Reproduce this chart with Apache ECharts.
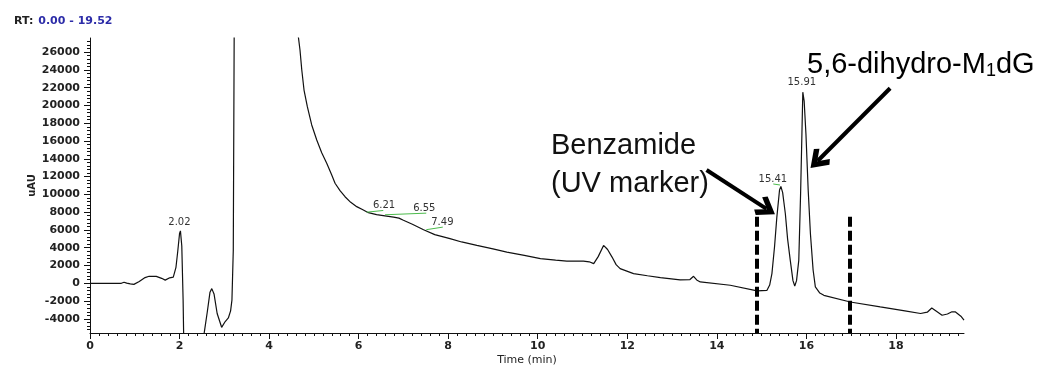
<!DOCTYPE html>
<html>
<head>
<meta charset="utf-8">
<script src="https://cdn.jsdelivr.net/npm/echarts@6/dist/echarts.min.js"></script>
<style>
  html, body { margin: 0; padding: 0; background: #fff; }
  #chart { width: 1046px; height: 367px; }
</style>
</head>
<body>
<div id="chart"></div>
<script>
// chromatogram trace (min, uAU); the big solvent peak runs off scale
const rtTimes = [
  0, 0.70, 0.76, 0.82, 0.90, 0.98, 1.10, 1.23, 1.32, 1.48, 1.60, 1.68, 1.78, 1.86,
  1.92, 1.96, 2.00, 2.02, 2.05, 2.08, 2.12, 2.30, 2.50, 2.55, 2.62, 2.68, 2.72, 2.77,
  2.84, 2.94, 3.02, 3.09, 3.14, 3.17, 3.20, 3.23, 3.40, 4.00, 4.50, 4.653, 4.69, 4.73,
  4.78, 4.854, 4.952, 5.064, 5.175, 5.287, 5.399, 5.473, 5.584, 5.696, 5.823, 5.957,
  6.105, 6.217, 6.40, 6.55, 6.78, 6.90, 7.00, 7.20, 7.45, 7.70,
  8.04, 8.30, 8.64, 9.00, 9.31, 9.70, 10.06, 10.40, 10.65, 11.02, 11.15, 11.25, 11.35,
  11.47, 11.56, 11.66, 11.75, 11.84, 12.14, 12.45, 12.74, 13.18, 13.40, 13.48, 13.55,
  13.63, 14.30, 14.90, 15.12, 15.18, 15.23, 15.29, 15.34, 15.40, 15.43, 15.47, 15.53,
  15.58, 15.64, 15.70, 15.74, 15.78, 15.83, 15.87, 15.90, 15.92, 15.95, 15.99, 16.04,
  16.09, 16.15, 16.20, 16.30, 16.39, 16.98, 17.65, 18.20, 18.55, 18.70, 18.80, 18.84,
  18.92, 19.03, 19.15, 19.25, 19.33, 19.45, 19.52
]
const intensity = [
  0, 0, 120, 20, -60, -120, 200, 640, 790, 780, 560, 360, 620, 700,
  1800, 3600, 5600, 5900, 4200, -2000, -15000, -30000, -12000, -5600, -3200, -1000, -600, -1200,
  -3400, -4950, -4300, -3900, -3100, -1900, 3700, 40000, 120000, 150000, 60000, 27740, 26240, 23990,
  21740, 19870, 17810, 16120, 14690, 13500, 12180, 11250, 10420, 9740, 9110, 8620,
  8250, 7940, 7720, 7620, 7440, 7330, 7100, 6650, 6030, 5480,
  5020, 4650, 4260, 3870, 3510, 3150, 2770, 2600, 2500, 2500, 2420, 2210, 3000,
  4260, 3800, 2950, 2100, 1650, 1090, 850, 640, 380, 420, 790, 380,
  150, -220, -860, -790, -200, 1090, 4200, 7440, 10500, 10900, 10200, 7820,
  5000, 2580, 300, -300, 300, 2580, 10000, 16800, 21500, 20500, 16800, 10500,
  5580, 1500, -410, -1100, -1350, -2100, -2660, -3100, -3400, -3250, -2780, -2730,
  -3200, -3590, -3450, -3200, -3220, -3700, -4150
]

// integrated peaks: label text, apex time, apex height
const peakNames = ['2.02', '6.21', '6.55', '7.49', '15.41', '15.91']
const peakTimes = [2.02, 6.21, 6.55, 7.49, 15.43, 15.92]
const peakHeights = [5900, 7950, 7620, 6030, 10900, 21500]

// green baselines drawn by the integrator
const baselineFrom = [[6.18, 8000], [6.59, 7710], [7.51, 6030], [15.26, 11170]]
const baselineTo = [[6.55, 8190], [7.51, 7890], [7.88, 6320], [15.41, 11057]]

// collection window (dashed) and annotation arrows
const windowTimes = [14.89, 16.96]
const windowTop = 7490
const arrowFrom = [[13.77, 12745], [17.87, 21935]]
const arrowTo = [[15.11, 8369], [16.25, 13757]]

const xMax = 19.52
const xMajorTicks = [0, 2, 4, 6, 8, 10, 12, 14, 16, 18]
const xMinorTicks = []
for (let i = 0; i <= 97; i++) xMinorTicks.push(+(i * 0.2).toFixed(1))

const yMin = -5590
const yMax = 27590
const yLabels = [-4000, -2000, 0, 2000, 4000, 6000, 8000, 10000, 12000, 14000,
  16000, 18000, 20000, 22000, 24000, 26000]
const yMinorTicks = []
for (let v = -5200; v <= 27200; v += 400) yMinorTicks.push(v)

const tickFont = { fontFamily: 'DejaVu Sans', fontSize: 11, fontWeight: 'bold', color: '#222' }
const arrowHead = 'path://M0,0 L12,15 L8,19 L0,9 L-8,19 L-12,15 Z'
const labelOffsets = [[-1, -8], [16, -7], [41, -7], [17, -7], [-8, -7], [-1, -10]]

const trace = rtTimes.map((t, i) => [t, intensity[i]])

const markLines = []
baselineFrom.forEach((p, i) => {
  markLines.push([
    { coord: p, symbol: 'none', lineStyle: { color: '#4cbb4c', width: 1, type: 'solid' } },
    { coord: baselineTo[i], symbol: 'none' },
  ])
})
windowTimes.forEach(t => {
  markLines.push([
    { coord: [t, windowTop], symbol: 'none', lineStyle: { color: '#000', width: 4, type: [10, 4] } },
    { coord: [t, yMin], symbol: 'none' },
  ])
})
arrowFrom.forEach((p, i) => {
  markLines.push([
    { coord: p, symbol: 'none', lineStyle: { color: '#000', width: 4, type: 'solid' } },
    { coord: arrowTo[i], symbol: arrowHead, symbolSize: [22, 20] },
  ])
})

const chart = echarts.init(document.getElementById('chart'), null, { renderer: 'canvas' })

chart.setOption({
  animation: false,
  backgroundColor: '#fff',
  title: {
    left: 9,
    top: 7,
    text: '{k|RT:} {v|0.00 - 19.52}',
    textStyle: {
      rich: {
        k: { fontFamily: 'DejaVu Sans', fontSize: 11, fontWeight: 'bold', color: '#222' },
        v: { fontFamily: 'DejaVu Sans', fontSize: 11, fontWeight: 'bold', color: '#2c2ca8' },
      },
    },
  },
  grid: { left: 90, right: 82, top: 38, bottom: 34, outerBoundsMode: 'none' },
  xAxis: [
    {
      type: 'value',
      min: 0,
      max: xMax,
      name: 'Time (min)',
      nameLocation: 'middle',
      nameGap: 22,
      nameMoveOverlap: false,
      nameTextStyle: { fontFamily: 'DejaVu Sans', fontSize: 11, color: '#222' },
      axisLine: { onZero: false, lineStyle: { color: '#111', width: 1 } },
      axisTick: { length: 3, customValues: xMinorTicks, lineStyle: { color: '#111' } },
      axisLabel: { ...tickFont, margin: 8, customValues: xMajorTicks },
      splitLine: { show: false },
    },
    {
      // longer ticks at the labelled times, laid over the bottom axis
      type: 'value',
      min: 0,
      max: xMax,
      position: 'top',
      offset: -295,
      axisLine: { show: false, onZero: false },
      axisTick: { inside: true, length: 6, customValues: xMajorTicks, lineStyle: { color: '#111' } },
      axisLabel: { show: false },
      splitLine: { show: false },
    },
  ],
  yAxis: [
    {
      type: 'value',
      min: yMin,
      max: yMax,
      name: 'uAU',
      nameLocation: 'middle',
      nameGap: 53,
      nameMoveOverlap: false,
      nameRotate: 90,
      nameTextStyle: { fontFamily: 'DejaVu Sans', fontSize: 10, fontWeight: 'bold', color: '#222' },
      axisLine: { show: true, onZero: false, lineStyle: { color: '#111', width: 1 } },
      axisTick: { show: true, length: 3, customValues: yMinorTicks, lineStyle: { color: '#111' } },
      axisLabel: { ...tickFont, margin: 10, customValues: yLabels, formatter: v => String(v) },
      splitLine: { show: false },
    },
    {
      // longer ticks at the labelled values, laid over the left axis
      type: 'value',
      min: yMin,
      max: yMax,
      position: 'right',
      offset: -874,
      axisLine: { show: false, onZero: false },
      axisTick: { show: true, inside: true, length: 6, customValues: yLabels, lineStyle: { color: '#111' } },
      axisLabel: { show: false },
      splitLine: { show: false },
    },
  ],
  series: [
    {
      name: 'UV',
      type: 'line',
      data: trace,
      showSymbol: false,
      clip: true,
      lineStyle: { color: '#111', width: 1.2 },
      markPoint: {
        symbol: 'circle',
        symbolSize: 0,
        data: peakNames.map((n, i) => ({
          name: n,
          coord: [peakTimes[i], peakHeights[i]],
          label: { offset: labelOffsets[i] },
        })),
        label: {
          show: true,
          position: 'inside',
          formatter: p => p.name,
          fontFamily: 'DejaVu Sans',
          fontSize: 10,
          color: '#333',
        },
      },
      markLine: {
        silent: true,
        label: { show: false },
        data: markLines,
      },
    },
  ],
  graphic: [
    {
      type: 'text',
      style: {
        text: 'Benzamide',
        x: 551,
        y: 146,
        font: '29px "Liberation Sans", Arial, sans-serif',
        fill: '#111',
        verticalAlign: 'middle',
      },
    },
    {
      type: 'text',
      style: {
        text: '(UV marker)',
        x: 551,
        y: 184,
        font: '29px "Liberation Sans", Arial, sans-serif',
        fill: '#111',
        verticalAlign: 'middle',
      },
    },
    {
      type: 'text',
      style: {
        text: '{a|5,6-dihydro-M}{s|1}{a|dG}',
        x: 807,
        y: 65,
        verticalAlign: 'middle',
        rich: {
          a: { fontFamily: 'Liberation Sans', fontSize: 29, lineHeight: 30, color: '#111' },
          s: { fontFamily: 'Liberation Sans', fontSize: 18, lineHeight: 12, verticalAlign: 'bottom', color: '#111' },
        },
      },
    },
  ],
})
</script>
</body>
</html>
